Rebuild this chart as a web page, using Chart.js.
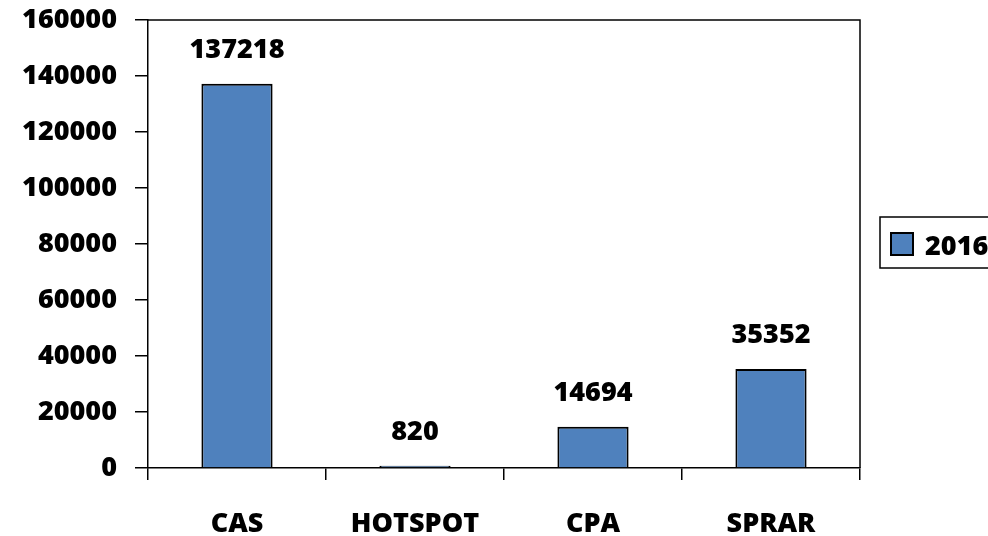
<!DOCTYPE html>
<html>
<head>
<meta charset="utf-8">
<script src="https://cdn.jsdelivr.net/npm/chart.js@4/dist/chart.umd.min.js"></script>
<style>
  html, body { margin: 0; padding: 0; background: #fff; overflow: hidden; }
  #wrap { width: 988px; height: 536px; position: relative; }
</style>
</head>
<body>
<div id="wrap"><canvas id="chart"></canvas></div>
<script>
// values
const categories = ['CAS', 'HOTSPOT', 'CPA', 'SPRAR'];
const values2016 = [137218, 820, 14694, 35352];
const seriesLabel = '2016';

const FONT = '"Open Sans", Lato, sans-serif';
const FONT_SIZE = 27;
const FONT_WEIGHT = '800';
const BAR_BLUE = '#4F81BD';

// value printed above each bar
const barLabels = {
    id: 'barLabels',
    afterDatasetsDraw(chart) {
        const ctx = chart.ctx;
        const meta = chart.getDatasetMeta(0);
        ctx.save();
        ctx.font = FONT_WEIGHT + ' ' + FONT_SIZE + 'px ' + FONT;
        ctx.fillStyle = '#000';
        ctx.textAlign = 'center';
        ctx.textBaseline = 'alphabetic';
        meta.data.forEach((bar, i) => {
            ctx.fillText(String(chart.data.datasets[0].data[i]), bar.x, bar.y - 26);
        });
        ctx.restore();
    }
};

// top + right edge of the plot frame, and the boxed legend on the right
const frameAndLegend = {
    id: 'frameAndLegend',
    afterDraw(chart) {
        const ctx = chart.ctx;
        const a = chart.chartArea;
        ctx.save();
        ctx.strokeStyle = '#000';
        ctx.lineWidth = 1.5;
        ctx.beginPath();
        ctx.moveTo(a.left, a.top);
        ctx.lineTo(a.right, a.top);
        ctx.lineTo(a.right, a.bottom);
        ctx.stroke();

        // legend box (runs off the right edge like the original)
        const lx = a.right + 20, ly = 217, lh = 51;
        ctx.strokeRect(lx, ly, 200, lh);
        ctx.fillStyle = BAR_BLUE;
        ctx.fillRect(lx + 11, ly + 16, 22, 22);
        ctx.lineWidth = 2;
        ctx.strokeRect(lx + 11, ly + 16, 22, 22);
        ctx.fillStyle = '#000';
        ctx.font = FONT_WEIGHT + ' ' + FONT_SIZE + 'px ' + FONT;
        ctx.textBaseline = 'alphabetic';
        ctx.textAlign = 'left';
        ctx.fillText(chart.data.datasets[0].label, lx + 45, ly + 38);
        ctx.restore();
    }
};

new Chart(document.getElementById('chart'), {
    type: 'bar',
    data: {
        labels: categories,
        datasets: [{
            label: seriesLabel,
            data: values2016,
            backgroundColor: BAR_BLUE,
            borderColor: '#000',
            borderWidth: 2,
            barPercentage: 0.4,
            categoryPercentage: 1
        }]
    },
    options: {
        responsive: true,
        maintainAspectRatio: false,
        animation: false,
        layout: { padding: { top: 20, right: 128, left: 0, bottom: 0 } },
        plugins: {
            legend: { display: false },
            tooltip: { enabled: false }
        },
        scales: {
            x: {
                afterFit: (s) => { s.height = 68; s.paddingLeft = 0; s.paddingRight = 0; },
                grid: {
                    offset: true,
                    drawOnChartArea: false,
                    color: '#000',
                    lineWidth: 1.5,
                    tickLength: 12
                },
                border: { color: '#000', width: 1.5 },
                ticks: {
                    color: '#000',
                    padding: 28,
                    font: { family: FONT, size: FONT_SIZE, weight: FONT_WEIGHT }
                }
            },
            y: {
                min: 0,
                max: 160000,
                // keep the plot top at 20px; the top label may stick out
                afterFit: (s) => { s.width = 148; s.paddingTop = 0; s.paddingBottom = 0; },
                grid: {
                    drawOnChartArea: false,
                    color: '#000',
                    lineWidth: 1.5,
                    tickLength: 13
                },
                border: { color: '#000', width: 1.5 },
                ticks: {
                    stepSize: 20000,
                    color: '#000',
                    padding: 18,
                    callback: (v) => String(v),
                    font: { family: FONT, size: FONT_SIZE, weight: FONT_WEIGHT }
                }
            }
        }
    },
    plugins: [barLabels, frameAndLegend]
});
</script>
</body>
</html>
